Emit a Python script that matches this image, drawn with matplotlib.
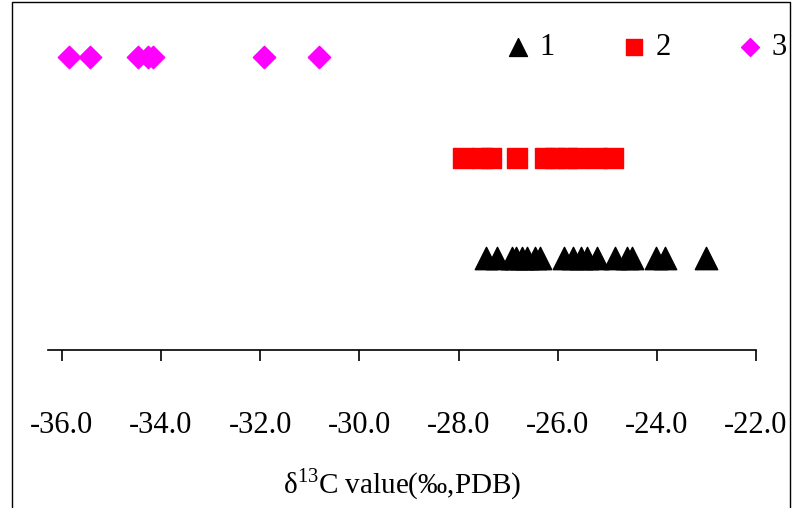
import matplotlib
matplotlib.use("Agg")
import matplotlib.pyplot as plt
from matplotlib.patches import Rectangle

s1 = [-27.45,-27.22,-26.93,-26.84,-26.71,-26.61,-26.46,-26.36,-25.87,-25.70,-25.52,-25.40,-25.21,-24.84,-24.61,-24.51,-24.02,-23.84,-23.01]
s2 = [-27.90,-27.53,-27.35,-26.83,-26.26,-26.05,-25.82,-25.62,-25.20,-24.89]
s3 = [-35.85,-35.43,-34.47,-34.26,-34.16,-31.92,-30.82]
ticks = [-36,-34,-32,-30,-28,-26,-24,-22]

plt.rcParams['font.family'] = ['Liberation Serif', 'DejaVu Serif']
plt.rcParams['mathtext.fontset'] = 'custom'
plt.rcParams['mathtext.rm'] = 'Liberation Serif'
W, H = 792, 508
fig = plt.figure(figsize=(W/100, H/100), dpi=100)
ax = fig.add_axes([48/W, 1-350/H, (756-48)/W, 350/H])
ax.scatter(s1, [1]*len(s1), marker='^', s=260, color='black', label='1', zorder=3)
ax.scatter(s2, [2]*len(s2), marker='s', s=190, color='red', label='2', zorder=3)
ax.scatter(s3, [3]*len(s3), marker='D', s=130, color='magenta', label='3', zorder=3)
ax.set_xlim(-36.28, -22)
ax.set_ylim(0.085, 3.57)
for sp in ['top','left','right']:
    ax.spines[sp].set_visible(False)
ax.spines['bottom'].set_linewidth(1.2)
ax.set_yticks([])
ax.set_xticks(ticks)
ax.set_xticklabels([f"{t:.1f}" for t in ticks], fontsize=22)
ax.tick_params(axis='x', direction='out', length=8, width=1.2, pad=36)
ax.set_xlabel(r"δ$^{\mathrm{13}}$C value(‰,PDB)", fontsize=21, labelpad=19)
ax.legend(loc='upper right', ncol=3, frameon=False, fontsize=22, handletextpad=0.1,
          columnspacing=2.0, bbox_to_anchor=(1.082, 0.985), markerscale=0.8, handlelength=1.2)
fig.patches.append(Rectangle((12/W, -0.1), (790-12)/W, 1.1-2/H, transform=fig.transFigure,
                             fill=False, edgecolor='black', linewidth=1))
fig.savefig("out.png", dpi=100)
